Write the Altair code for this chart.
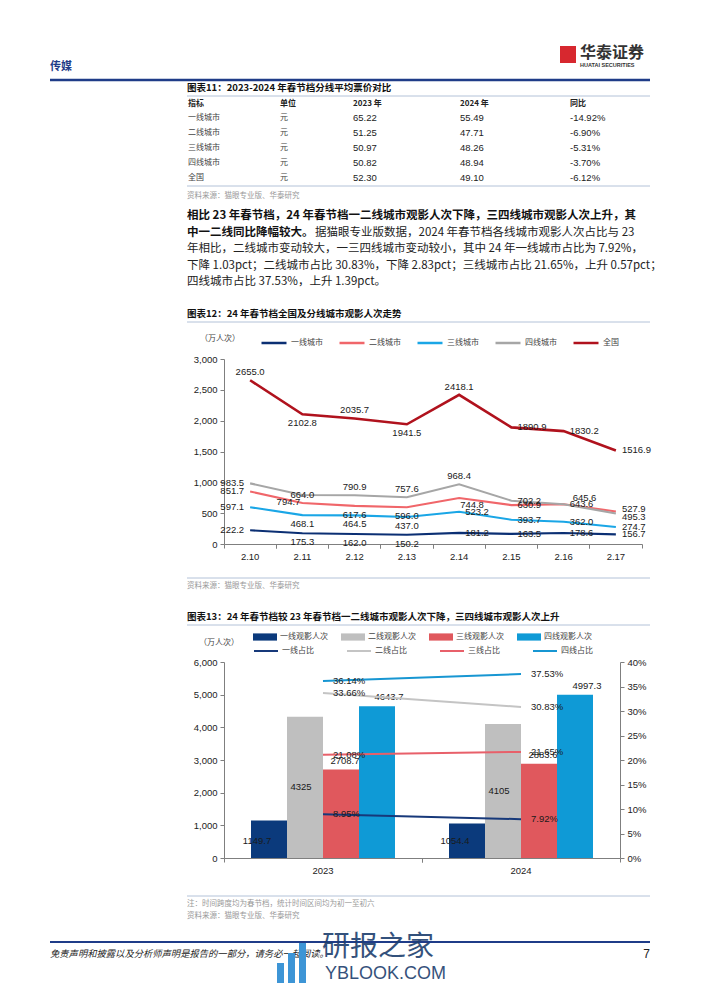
import altair as alt
import pandas as pd

CJK = "Noto Sans CJK SC"
NUM = "Liberation Sans"

# ---------------- data ----------------
TABLE_HEAD = ["指标", "单位", "2023 年", "2024 年", "同比"]
TABLE_ROWS = ["一线城市", "二线城市", "三线城市", "四线城市", "全国"]
TABLE_UNIT = ["元", "元", "元", "元", "元"]
TABLE_2023 = ["65.22", "51.25", "50.97", "50.82", "52.30"]
TABLE_2024 = ["55.49", "47.71", "48.26", "48.94", "49.10"]
TABLE_YOY = ["-14.92%", "-6.90%", "-5.31%", "-3.70%", "-6.12%"]

DATES = ["2.10", "2.11", "2.12", "2.13", "2.14", "2.15", "2.16", "2.17"]
SERIES12 = ["一线城市", "二线城市", "三线城市", "四线城市", "全国"]
TIER1 = [222.2, 175.3, 162.0, 150.2, 181.2, 163.5, 178.6, 156.7]
TIER2 = [851.7, 664.0, 617.6, 596.0, 744.8, 630.9, 643.6, 527.9]
TIER3 = [597.1, 468.1, 464.5, 437.0, 523.2, 393.7, 362.0, 274.7]
TIER4 = [983.5, 794.7, 790.9, 757.6, 968.4, 702.2, 645.6, 495.3]
NATION = [2655.0, 2102.8, 2035.7, 1941.5, 2418.1, 1890.9, 1830.2, 1516.9]

YEARS = ["2023", "2024"]
BAR_SERIES = ["一线观影人次", "二线观影人次", "三线观影人次", "四线观影人次"]
BAR_2023 = [1149.7, 4325, 2708.7, 4643.7]
BAR_2024 = [1054.4, 4105, 2883.6, 4997.3]
SHARE_SERIES = ["一线占比", "二线占比", "三线占比", "四线占比"]
SHARE_2023 = [8.95, 33.66, 21.08, 36.14]
SHARE_2024 = [7.92, 30.83, 21.65, 37.53]

# ---------------- styles ----------------
COL12 = ["#0b2f73", "#f0666a", "#1aa6e6", "#a6a6a6", "#b0121d"]
BAR_COLORS = ["#0b3a7c", "#bfbfbf", "#e0585d", "#0f9ad6"]
SHARE_COLORS = ["#17397a", "#c4c4c4", "#e8606a", "#1796d2"]
NAVY = "#1f3c88"
RULE = "#b3c2d8"

# label placement per point (t=top, b=bottom, l=left, r=right ...)
LABEL_POS12 = {
    "一线城市": ["l", "b", "b", "b", "r", "r", "r", "r"],
    "二线城市": ["l", "t", "b", "b", "br", "r", "r", "rt"],
    "三线城市": ["l", "b", "b", "b", "r", "r", "r", "r"],
    "四线城市": ["l", "bl", "t", "t", "t", "r", "tr", "rb"],
    "全国": ["t", "b", "t", "b", "t", "r", "r", "r"],
}
POS = {
    "t": dict(align="center", dx=0, dy=-8),
    "b": dict(align="center", dx=0, dy=9),
    "l": dict(align="right", dx=-6, dy=0),
    "r": dict(align="left", dx=6, dy=0),
    "rt": dict(align="left", dx=6, dy=-2),
    "rb": dict(align="left", dx=6, dy=4),
    "bl": dict(align="right", dx=-2, dy=7),
    "br": dict(align="left", dx=1, dy=7),
    "tr": dict(align="left", dx=9, dy=-6),
}

W, H = 686, 975


def P(v):
    return v - 8


ONE = pd.DataFrame({"k": [0]})


def text(s, x, y, size=9, color="#222", weight="normal", font=CJK, align="left", style="normal", opacity=1.0):
    return alt.Chart(pd.DataFrame({"t": [s]})).mark_text(
        align=align, baseline="middle", fontSize=size, font=font, fontWeight=weight,
        fontStyle=style, color=color, opacity=opacity,
    ).encode(x=alt.value(P(x)), y=alt.value(P(y)), text="t:N")


def hline(x1, x2, y, color, width=1.0):
    return alt.Chart(ONE).mark_rule(color=color, strokeWidth=width).encode(
        x=alt.value(P(x1)), x2=alt.value(P(x2)), y=alt.value(P(y)))


def box(x1, x2, y1, y2, color):
    return alt.Chart(ONE).mark_rect(color=color).encode(
        x=alt.value(P(x1)), x2=alt.value(P(x2)), y=alt.value(P(y1)), y2=alt.value(P(y2)))


layers = []

# ---------------- page header ----------------
layers += [
    text("传媒", 50, 67, size=11, color=NAVY, weight="bold"),
    hline(50, 650, 80, NAVY, 2.5),
    box(560, 576, 46, 63, "#d7282f"),
    text("华泰证券", 580, 53, size=16, color="#333", weight="bold"),
    text("HUATAI SECURITIES", 580, 65, size=5.5, color="#333", font=NUM, weight="bold"),
]

# ---------------- table 11 ----------------
layers += [
    text("图表11：2023-2024 年春节档分线平均票价对比", 187, 88, size=9.5, color="#111", weight="bold"),
    hline(187, 650, 96, RULE, 1),
]
COLX = [188, 280, 353, 460, 570]
for j, h in enumerate(TABLE_HEAD):
    layers.append(text(h, COLX[j], 104, size=8, color="#222", weight="bold"))
tbl = pd.DataFrame({"r": list(range(len(TABLE_ROWS))), "c0": TABLE_ROWS, "c1": TABLE_UNIT,
                    "c2": TABLE_2023, "c3": TABLE_2024, "c4": TABLE_YOY})
rowY = alt.Y("r:Q", scale=alt.Scale(domain=[0, 4], range=[P(118), P(178)]), axis=None)
for j, col in enumerate(["c0", "c1", "c2", "c3", "c4"]):
    isnum = j >= 2
    layers.append(
        alt.Chart(tbl).mark_text(align="left", baseline="middle",
                                 font=NUM if isnum else CJK,
                                 fontSize=9.5 if isnum else 8,
                                 color="#222" if isnum else "#444")
        .encode(x=alt.value(P(COLX[j])), y=rowY, text=f"{col}:N")
    )
layers += [
    hline(187, 650, 186, RULE, 1),
    text("资料来源：猫眼专业版、华泰研究", 187, 196, size=7.5, color="#999"),
]

# ---------------- paragraph ----------------
PARA_Y0, PARA_DY = 216, 16.6
layers += [
    text("相比 23 年春节档，24 年春节档一二线城市观影人次下降，三四线城市观影人次上升，其", 187, PARA_Y0,
         size=11.5, color="#111", weight="bold"),
    text("中一二线同比降幅较大。", 187, PARA_Y0 + PARA_DY, size=11.5, color="#111", weight="bold"),
    text("据猫眼专业版数据，2024 年春节档各线城市观影人次占比与 23", 315, PARA_Y0 + PARA_DY, size=11.5, color="#222"),
    text("年相比，二线城市变动较大，一三四线城市变动较小，其中 24 年一线城市占比为 7.92%，", 187,
         PARA_Y0 + 2 * PARA_DY, size=11.5, color="#222"),
    text("下降 1.03pct；二线城市占比 30.83%，下降 2.83pct；三线城市占比 21.65%，上升 0.57pct；", 187,
         PARA_Y0 + 3 * PARA_DY, size=11.5, color="#222"),
    text("四线城市占比 37.53%，上升 1.39pct。", 187, PARA_Y0 + 4 * PARA_DY, size=11.5, color="#222"),
]

# ---------------- figure 12 ----------------
layers += [
    text("图表12：24 年春节档全国及分线城市观影人次走势", 187, 314, size=9.5, color="#111", weight="bold"),
    hline(187, 650, 322, RULE, 1),
    text("（万人次）", 200, 339, size=8, color="#444"),
]

rows = []
for s, vals in zip(SERIES12, [TIER1, TIER2, TIER3, TIER4, NATION]):
    for i, (d, v) in enumerate(zip(DATES, vals)):
        rows.append({"date": d, "series": s, "value": v, "pos": LABEL_POS12[s][i]})
df12 = pd.DataFrame(rows)

X12_OFF = P(544) - H
sc_x12 = alt.Scale(type="band", domain=DATES, range=[P(224), P(642)], paddingInner=0, paddingOuter=0)
sc_y12 = alt.Scale(domain=[0, 3000], range=[P(544), P(359)], nice=False, zero=False)
AX_STYLE = dict(domainColor="#7f7f7f", tickColor="#7f7f7f", labelFont=NUM, labelFontSize=9.5,
                labelColor="#222", title=None, grid=False)

lines12 = alt.Chart(df12).mark_line().encode(
    x=alt.X("date:N", scale=sc_x12,
            axis=alt.Axis(orient="bottom", offset=X12_OFF, ticks=False, labelAngle=0, labelPadding=7, **AX_STYLE)),
    y=alt.Y("value:Q", scale=sc_y12,
            axis=alt.Axis(orient="left", offset=-P(224), values=[0, 500, 1000, 1500, 2000, 2500, 3000],
                          format=",.0f", tickSize=4, labelPadding=3, **AX_STYLE)),
    color=alt.Color("series:N", scale=alt.Scale(domain=SERIES12, range=COL12),
                    legend=alt.Legend(orient="none", legendX=P(260), legendY=P(342) - 13, direction="horizontal",
                                      title=None, symbolType="stroke", symbolSize=625, symbolStrokeWidth=2.5,
                                      labelFont=CJK, labelFontSize=8, labelColor="#444", labelOffset=3,
                                      columnPadding=11, padding=0)),
    strokeWidth=alt.condition(alt.datum.series == "全国", alt.value(2.6), alt.value(2.1)),
)
layers.append(lines12)

for bp in [0, 1]:
    layers.append(
        alt.Chart(df12).mark_point(opacity=0).encode(
            x=alt.X("date:N", scale=sc_x12,
                    axis=alt.Axis(orient="bottom", offset=X12_OFF, labels=False, domain=False, ticks=True,
                                  tickSize=4, bandPosition=bp, tickColor="#7f7f7f", title=None, grid=False)),
            y=alt.Y("value:Q", scale=sc_y12, axis=None),
        )
    )

for code, p in POS.items():
    layers.append(
        alt.Chart(df12).transform_filter(alt.datum.pos == code).mark_text(
            align=p["align"], dx=p["dx"], dy=p["dy"], baseline="middle", font=NUM, fontSize=9.5, color="#1a1a1a"
        ).encode(
            x=alt.X("date:N", scale=sc_x12, axis=None),
            y=alt.Y("value:Q", scale=sc_y12, axis=None),
            text=alt.Text("value:Q", format=".1f"),
        )
    )

layers += [
    hline(187, 650, 578, RULE, 1),
    text("资料来源：猫眼专业版、华泰研究", 187, 586, size=7.5, color="#999"),
]

# ---------------- figure 13 ----------------
layers += [
    text("图表13：24 年春节档较 23 年春节档一二线城市观影人次下降，三四线城市观影人次上升", 187, 617,
         size=9.5, color="#111", weight="bold"),
    hline(187, 650, 625, RULE, 1),
    text("（万人次）", 199, 643, size=8, color="#444"),
]

bar_rows = []
for y, vals in zip(YEARS, [BAR_2023, BAR_2024]):
    for s, v in zip(BAR_SERIES, vals):
        bar_rows.append({"year": y, "series": s, "value": v})
dfb = pd.DataFrame(bar_rows)

share_rows = []
for y, vals in zip(YEARS, [SHARE_2023, SHARE_2024]):
    for s, v in zip(SHARE_SERIES, vals):
        share_rows.append({"year": y, "series": s, "share": v})
dfs = pd.DataFrame(share_rows)

X13_OFF = P(858) - H
sc_x13 = alt.Scale(type="band", domain=YEARS, range=[P(224), P(620)], paddingInner=0, paddingOuter=0)
sc_xo = alt.Scale(domain=BAR_SERIES, paddingInner=0, paddingOuter=0.75)
sc_y13 = alt.Scale(domain=[0, 6000], range=[P(858), P(662)], nice=False, zero=False)
sc_s13 = alt.Scale(domain=[0, 40], range=[P(858), P(662)], nice=False, zero=False)

bars = alt.Chart(dfb).mark_bar().encode(
    x=alt.X("year:N", scale=sc_x13,
            axis=alt.Axis(orient="bottom", offset=X13_OFF, ticks=False, labelAngle=0, labelPadding=7, **AX_STYLE)),
    xOffset=alt.XOffset("series:N", scale=sc_xo),
    y=alt.Y("value:Q", scale=sc_y13,
            axis=alt.Axis(orient="left", offset=-P(224), values=[0, 1000, 2000, 3000, 4000, 5000, 6000],
                          format=",.0f", tickSize=4, labelPadding=3, **AX_STYLE)),
    color=alt.Color("series:N", scale=alt.Scale(domain=BAR_SERIES, range=BAR_COLORS),
                    legend=alt.Legend(orient="none", legendX=P(253), legendY=P(637) - 12, direction="horizontal",
                                      title=None, symbolType="M-1,-0.3H1V0.3H-1Z", symbolSize=576,
                                      symbolStrokeWidth=0, labelFont=CJK, labelFontSize=8, labelColor="#444",
                                      labelOffset=3, columnPadding=13, padding=0)),
)
layers.append(bars)

for bp in [0, 1]:
    layers.append(
        alt.Chart(dfb).mark_point(opacity=0).encode(
            x=alt.X("year:N", scale=sc_x13,
                    axis=alt.Axis(orient="bottom", offset=X13_OFF, labels=False, domain=False, ticks=True,
                                  tickSize=4, bandPosition=bp, tickColor="#7f7f7f", title=None, grid=False)),
            y=alt.Y("value:Q", scale=sc_y13, axis=None),
        )
    )

bar_text = dict(baseline="middle", font=NUM, fontSize=9.5, color="#1a1a1a", align="center")
# inside base (一线)
layers.append(
    alt.Chart(dfb).transform_filter(alt.datum.series == BAR_SERIES[0]).transform_calculate(base="0")
    .mark_text(dy=-17, **bar_text).encode(
        x=alt.X("year:N", scale=sc_x13, axis=None), xOffset=alt.XOffset("series:N", scale=sc_xo),
        y=alt.Y("base:Q", scale=sc_y13, axis=None), text=alt.Text("value:Q", format=".1~f"))
)
# centre (二线)
layers.append(
    alt.Chart(dfb).transform_filter(alt.datum.series == BAR_SERIES[1]).transform_calculate(mid="datum.value / 2")
    .mark_text(**bar_text).encode(
        x=alt.X("year:N", scale=sc_x13, axis=None), xOffset=alt.XOffset("series:N", scale=sc_xo),
        y=alt.Y("mid:Q", scale=sc_y13, axis=None), text=alt.Text("value:Q", format=".1~f"))
)
# outside end (三线, 四线)
layers.append(
    alt.Chart(dfb).transform_filter(
        (alt.datum.series == BAR_SERIES[2]) | (alt.datum.series == BAR_SERIES[3]))
    .mark_text(dy=-9, **bar_text).encode(
        x=alt.X("year:N", scale=sc_x13, axis=None), xOffset=alt.XOffset("series:N", scale=sc_xo),
        y=alt.Y("value:Q", scale=sc_y13, axis=None), text=alt.Text("value:Q", format=".1~f"))
)

share_lines = alt.Chart(dfs).mark_line(strokeWidth=2).encode(
    x=alt.X("year:N", scale=sc_x13, axis=None),
    y=alt.Y("share:Q", scale=sc_s13,
            axis=alt.Axis(orient="right", offset=P(620) - W, values=[0, 5, 10, 15, 20, 25, 30, 35, 40],
                          labelExpr="datum.value + '%'", tickSize=4, labelPadding=3, **AX_STYLE)),
    stroke=alt.Stroke("series:N", scale=alt.Scale(domain=SHARE_SERIES, range=SHARE_COLORS),
                      legend=alt.Legend(orient="none", legendX=P(253), legendY=P(650) - 12, direction="horizontal",
                                        title=None, symbolType="stroke", symbolSize=576, symbolStrokeWidth=2,
                                        labelFont=CJK, labelFontSize=8, labelColor="#444", labelOffset=3,
                                        columnPadding=29, padding=0)),
)
layers.append(share_lines)

layers.append(
    alt.Chart(dfs).transform_calculate(lab="format(datum.share, '.2f') + '%'")
    .mark_text(align="left", dx=10, baseline="middle", font=NUM, fontSize=9.5, color="#1a1a1a").encode(
        x=alt.X("year:N", scale=sc_x13, axis=None),
        y=alt.Y("share:Q", scale=sc_s13, axis=None),
        text="lab:N")
)

# ---------------- notes & footer ----------------
layers += [
    hline(187, 650, 896, RULE, 1),
    text("注：时间跨度均为春节档，统计时间区间均为初一至初六", 187, 904, size=7.5, color="#999"),
    text("资料来源：猫眼专业版、华泰研究", 187, 916, size=7.5, color="#999"),
    hline(50, 650, 942, NAVY, 2),
    text("免责声明和披露以及分析师声明是报告的一部分，请务必一起阅读。", 50, 954, size=9.3, color="#222",
         style="italic"),
    text("7", 650, 954, size=12, color="#222", font=NUM, align="right"),
    box(277, 284, 963, 984, "#3d95d6"),
    box(288, 295, 953, 984, "#3d95d6"),
    box(299, 306, 943, 984, "#3d95d6"),
    text("研报之家", 322, 948, size=28, color="#1d3f6e", opacity=0.9),
    text("YBLOOK.COM", 325, 974, size=18, color="#1d3f6e", font=NUM, opacity=0.9),
]

chart = (
    alt.layer(*layers)
    .properties(width=W, height=H, autosize=alt.AutoSizeParams(type="none"), padding=0, background="white")
    .resolve_scale(x="independent", y="independent", color="independent", stroke="independent",
                   xOffset="independent", strokeWidth="independent")
    .resolve_axis(x="independent", y="independent")
    .resolve_legend(color="independent", stroke="independent")
    .configure_view(stroke=None)
)

chart.save("out.html", embed_options={"renderer": "svg", "actions": False})
